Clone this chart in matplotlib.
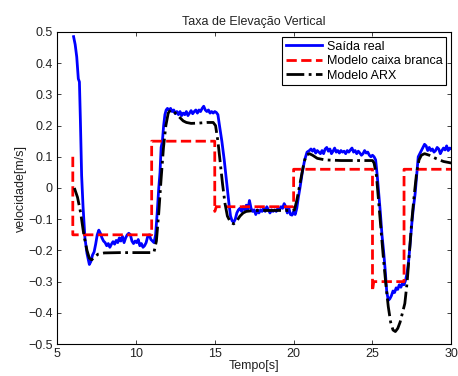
import numpy as np
import matplotlib
matplotlib.use("Agg")
import matplotlib.pyplot as plt

plt.rcParams['font.family'] = ['Liberation Sans', 'DejaVu Sans']

# Saida real (medida)
t_real = [6.05, 6.15, 6.25, 6.35, 6.42, 6.48, 6.56, 6.65, 6.77, 6.9, 7.05, 7.15, 7.25, 7.35,
          7.45, 7.55, 7.65, 7.75, 7.85, 7.95, 8.05, 8.15, 8.25, 8.35, 8.45, 8.55, 8.65, 8.75,
          8.85, 8.95, 9.05, 9.15, 9.25, 9.35, 9.45, 9.55, 9.65, 9.75, 9.85, 9.95, 10.05, 10.15,
          10.25, 10.35, 10.45, 10.55, 10.65, 10.75, 10.85, 10.95, 11.05, 11.15, 11.25, 11.35,
          11.45, 11.53, 11.6, 11.68, 11.76, 11.84, 11.92, 12.0, 12.1, 12.2, 12.3, 12.4, 12.5,
          12.6, 12.7, 12.8, 12.9, 13.0, 13.1, 13.2, 13.3, 13.4, 13.5, 13.6, 13.7, 13.8, 13.9,
          14.0, 14.1, 14.2, 14.3, 14.4, 14.5, 14.6, 14.7, 14.8, 14.9, 15.0, 15.1, 15.2, 15.3,
          15.45, 15.6, 15.75, 15.9, 16.0, 16.1, 16.2, 16.3, 16.4, 16.5, 16.6, 16.7, 16.8, 16.9,
          17.0, 17.1, 17.2, 17.3, 17.4, 17.5, 17.6, 17.7, 17.8, 17.9, 18.0, 18.1, 18.2, 18.3,
          18.4, 18.5, 18.6, 18.7, 18.8, 18.9, 19.0, 19.1, 19.2, 19.3, 19.4, 19.5, 19.6, 19.7,
          19.8, 19.9, 20.0, 20.1, 20.2, 20.3, 20.4, 20.55, 20.7, 20.85, 21.0, 21.1, 21.2, 21.3,
          21.4, 21.5, 21.6, 21.7, 21.8, 21.9, 22.0, 22.1, 22.2, 22.3, 22.4, 22.5, 22.6, 22.7,
          22.8, 22.9, 23.0, 23.1, 23.2, 23.3, 23.4, 23.5, 23.6, 23.7, 23.8, 23.9, 24.0, 24.1,
          24.2, 24.3, 24.4, 24.5, 24.6, 24.7, 24.8, 24.9, 25.0, 25.1, 25.2, 25.3, 25.4, 25.5,
          25.6, 25.7, 25.8, 25.9, 26.0, 26.1, 26.2, 26.3, 26.4, 26.5, 26.6, 26.7, 26.8, 26.9,
          27.0, 27.1, 27.2, 27.3, 27.4, 27.5, 27.6, 27.7, 27.8, 27.9, 28.0, 28.1, 28.2, 28.3,
          28.4, 28.5, 28.6, 28.7, 28.8, 28.9, 29.0, 29.1, 29.2, 29.3, 29.4, 29.5, 29.6, 29.7,
          29.8, 29.9, 30.0]
v_real = [0.485, 0.46, 0.42, 0.35, 0.34, 0.22, 0.04, -0.06, -0.16, -0.21, -0.245, -0.235, -0.215, -0.205,
          -0.18, -0.15, -0.135, -0.145, -0.16, -0.17, -0.175, -0.185, -0.178, -0.19, -0.18, -0.172, -0.18, -0.168,
          -0.175, -0.16, -0.17, -0.155, -0.175, -0.16, -0.15, -0.145, -0.15, -0.17, -0.178, -0.17, -0.175, -0.165,
          -0.185, -0.178, -0.19, -0.185, -0.175, -0.155, -0.15, -0.165, -0.17, -0.175, -0.15, -0.08,
          0.0, 0.05, 0.13, 0.15, 0.2, 0.235, 0.25, 0.255, 0.25, 0.255, 0.245, 0.25, 0.238,
          0.245, 0.235, 0.245, 0.232, 0.24, 0.235, 0.245, 0.232, 0.24, 0.248, 0.238, 0.245, 0.25, 0.24,
          0.25, 0.245, 0.255, 0.262, 0.25, 0.245, 0.25, 0.24, 0.245, 0.24, 0.245, 0.242, 0.235, 0.2,
          0.15, 0.09, 0.02, -0.05, -0.09, -0.105, -0.11, -0.1, -0.08, -0.07, -0.065, -0.075, -0.06, -0.07,
          -0.055, -0.07, -0.04, -0.065, -0.075, -0.07, -0.085, -0.07, -0.08, -0.07, -0.075, -0.065, -0.075, -0.06,
          -0.07, -0.08, -0.07, -0.075, -0.07, -0.075, -0.065, -0.07, -0.06, -0.065, -0.05, -0.06, -0.08, -0.065,
          -0.085, -0.087, -0.075, -0.085, -0.065, -0.03, 0.0, 0.05, 0.09, 0.115, 0.12, 0.125, 0.118, 0.125,
          0.112, 0.12, 0.115, 0.11, 0.12, 0.11, 0.125, 0.13, 0.118, 0.125, 0.11, 0.118, 0.128, 0.115,
          0.12, 0.112, 0.12, 0.115, 0.118, 0.11, 0.12, 0.115, 0.122, 0.128, 0.115, 0.12, 0.11, 0.118,
          0.112, 0.105, 0.11, 0.12, 0.112, 0.115, 0.105, 0.1, 0.105, 0.1, 0.09, 0.04, -0.02, -0.08,
          -0.15, -0.2, -0.26, -0.33, -0.36, -0.355, -0.345, -0.33, -0.335, -0.32, -0.325, -0.31, -0.318, -0.305,
          -0.31, -0.295, -0.27, -0.23, -0.17, -0.11, -0.06, -0.02, 0.04, 0.1, 0.11, 0.12, 0.13, 0.14,
          0.135, 0.12, 0.13, 0.12, 0.125, 0.115, 0.12, 0.13, 0.125, 0.11, 0.12, 0.128, 0.122, 0.135,
          0.12, 0.128, 0.125]

# Modelo caixa branca (degraus)
t_cb = [6, 6, 11, 11, 15, 15, 15.1, 20, 20, 25, 25, 25.08, 27, 27, 30]
v_cb = [0.1, -0.15, -0.15, 0.15, 0.15, -0.075, -0.06, -0.06, 0.06, 0.06, -0.33, -0.30, -0.30, 0.06, 0.06]

# Modelo ARX
t_arx = [6.1, 6.3, 6.5, 6.7, 6.9, 7.05, 7.2, 7.4, 7.6, 8.0, 9.0, 10.0, 11.0, 11.15, 11.3, 11.45,
         11.6, 11.75, 11.9, 12.05, 12.2, 12.4, 12.6, 12.8, 13.0, 13.2, 13.5, 14.0, 14.5, 14.9,
         15.05, 15.2, 15.35, 15.5, 15.65, 15.8, 16.0, 16.2, 16.4, 16.6, 16.8, 17.0, 17.5, 18.0,
         19.0, 19.9, 20.05, 20.2, 20.35, 20.5, 20.65, 20.8, 21.0, 21.2, 21.5, 22.0, 23.0, 24.0,
         25.0, 25.1, 25.25, 25.4, 25.55, 25.7, 25.85, 26.0, 26.15, 26.3, 26.45, 26.6, 26.75, 26.9,
         27.05, 27.2, 27.35, 27.5, 27.65, 27.8, 27.95, 28.1, 28.3, 28.6, 29.0, 29.5, 30.0]
v_arx = [0.0, -0.03, -0.08, -0.15, -0.2, -0.225, -0.23, -0.22, -0.212, -0.208, -0.207, -0.207, -0.207, -0.205, -0.17, -0.08,
         0.03, 0.13, 0.2, 0.24, 0.25, 0.245, 0.235, 0.225, 0.215, 0.21, 0.207, 0.208, 0.21, 0.21,
         0.2, 0.15, 0.08, 0.01, -0.05, -0.09, -0.11, -0.115, -0.105, -0.09, -0.08, -0.075, -0.072, -0.072,
         -0.072, -0.072, -0.07, -0.04, 0.0, 0.04, 0.08, 0.105, 0.11, 0.105, 0.095, 0.09, 0.088, 0.088,
         0.088, 0.08, 0.04, -0.05, -0.14, -0.23, -0.31, -0.38, -0.43, -0.455, -0.46, -0.45, -0.43, -0.4,
         -0.37, -0.3, -0.2, -0.1, -0.02, 0.05, 0.09, 0.105, 0.11, 0.105, 0.095, 0.085, 0.08]

fig = plt.figure(figsize=(4.58, 3.76), dpi=100)
ax = fig.add_axes([0.1245, 0.085, 0.861, 0.83])

ax.plot(t_real, v_real, color='#0000ff', lw=2, label='Saída real')
ax.plot(t_cb, v_cb, color='#ff0000', lw=2, ls='--', label='Modelo caixa branca')
ax.plot(t_arx, v_arx, color='k', lw=2, ls='-.', label='Modelo ARX')

ax.set_xlim(5, 30)
ax.set_ylim(-0.5, 0.5)
ax.set_xticks(np.arange(5, 31, 5))
yt = np.round(np.arange(-0.5, 0.51, 0.1), 1)
ax.set_yticks(yt)
ax.set_yticklabels(['0' if v == 0 else ('%g' % v).replace('-', '\u2212') for v in yt])
ax.tick_params(direction='in', top=True, right=True, labelsize=9, length=3, width=0.6,
               colors='#222222', pad=3)
for s in ax.spines.values():
    s.set_linewidth(0.8)

ax.set_title('Taxa de Elevação Vertical', fontsize=9, pad=5, color='#222222')
ax.set_xlabel('Tempo[s]', fontsize=9, labelpad=0, color='#222222')
ax.set_ylabel('velocidade[m/s]', fontsize=9, labelpad=1, color='#222222')

leg = ax.legend(loc='upper right', fontsize=9, fancybox=False, framealpha=1,
                edgecolor='k', handlelength=2.9, borderaxespad=0.4, labelspacing=0.2,
                borderpad=0.3, handletextpad=0.4)
leg.get_frame().set_linewidth(0.8)

fig.savefig('out.png', dpi=100)
